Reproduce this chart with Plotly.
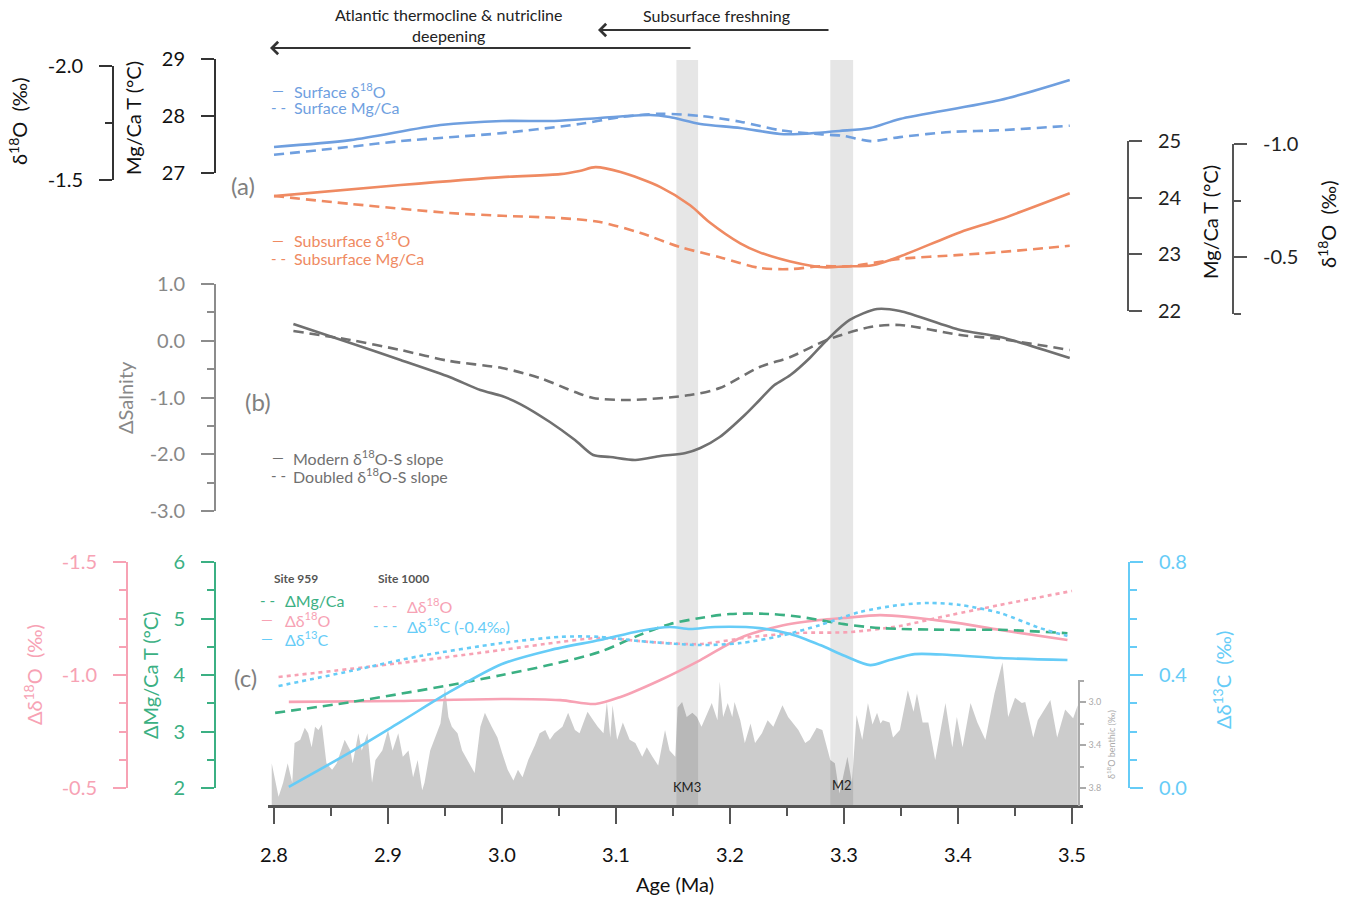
import plotly.graph_objects as go

W, H = 1354, 901
FONT = "Lato, 'Open Sans', sans-serif"

# ---------------- data ----------------
# (a) surface
surf_d18o_age = [2.800, 2.867, 2.946, 3.000, 3.046, 3.086, 3.130, 3.147, 3.174, 3.209, 3.244, 3.261, 3.296, 3.323, 3.349, 3.437, 3.498]
surf_d18o = [-1.645, -1.675, -1.741, -1.759, -1.759, -1.772, -1.785, -1.776, -1.746, -1.728, -1.702, -1.702, -1.715, -1.728, -1.768, -1.851, -1.939]
surf_mg_age = [2.800, 2.867, 2.911, 3.000, 3.068, 3.104, 3.139, 3.174, 3.209, 3.244, 3.279, 3.300, 3.323, 3.349, 3.393, 3.437, 3.498]
surf_mg = [27.32, 27.46, 27.56, 27.70, 27.86, 27.98, 28.04, 28.00, 27.90, 27.75, 27.68, 27.65, 27.56, 27.63, 27.72, 27.75, 27.83]
# (a) subsurface
sub_d18o_age = [2.800, 2.911, 3.000, 3.051, 3.068, 3.082, 3.104, 3.139, 3.165, 3.182, 3.209, 3.226, 3.253, 3.282, 3.301, 3.325, 3.349, 3.402, 3.437, 3.498]
sub_d18o = [-0.770, -0.819, -0.854, -0.867, -0.881, -0.898, -0.876, -0.810, -0.730, -0.655, -0.562, -0.522, -0.482, -0.456, -0.460, -0.465, -0.504, -0.611, -0.668, -0.783]
sub_mg_age = [2.800, 2.867, 2.954, 3.000, 3.051, 3.086, 3.121, 3.156, 3.191, 3.226, 3.253, 3.279, 3.305, 3.349, 3.402, 3.437, 3.498]
sub_mg = [24.03, 23.89, 23.73, 23.68, 23.64, 23.57, 23.38, 23.13, 22.95, 22.76, 22.74, 22.79, 22.79, 22.92, 22.99, 23.04, 23.15]
# (b) salinity
sal_mod_age = [2.817, 2.867, 2.911, 2.954, 2.981, 3.000, 3.016, 3.042, 3.064, 3.080, 3.095, 3.117, 3.139, 3.161, 3.174, 3.191, 3.213, 3.226, 3.239, 3.253, 3.270, 3.285, 3.305, 3.329, 3.349, 3.402, 3.437, 3.498]
sal_mod = [0.295, -0.040, -0.339, -0.639, -0.868, -0.974, -1.115, -1.432, -1.749, -2.013, -2.048, -2.101, -2.031, -1.978, -1.890, -1.696, -1.308, -1.044, -0.780, -0.604, -0.304, 0.013, 0.366, 0.559, 0.524, 0.189, 0.066, -0.304]
sal_dbl_age = [2.817, 2.867, 2.911, 2.954, 3.000, 3.033, 3.064, 3.080, 3.112, 3.165, 3.191, 3.226, 3.253, 3.285, 3.323, 3.349, 3.402, 3.437, 3.498]
sal_dbl = [0.172, 0.013, -0.163, -0.357, -0.480, -0.656, -0.903, -1.009, -1.044, -0.956, -0.833, -0.463, -0.286, 0.013, 0.242, 0.278, 0.101, 0.031, -0.163]
# (c) site 959
s959_d18o_age = [2.813, 2.911, 3.000, 3.051, 3.082, 3.104, 3.139, 3.174, 3.209, 3.244, 3.279, 3.300, 3.332, 3.393, 3.437, 3.496]
s959_d18o = [-0.881, -0.885, -0.894, -0.889, -0.872, -0.903, -0.978, -1.066, -1.164, -1.217, -1.243, -1.252, -1.265, -1.235, -1.199, -1.155]
s959_mg_age = [2.801, 2.867, 2.954, 3.000, 3.042, 3.086, 3.121, 3.147, 3.174, 3.200, 3.235, 3.261, 3.300, 3.332, 3.393, 3.437, 3.496]
s959_mg = [3.33, 3.52, 3.82, 4.00, 4.18, 4.41, 4.71, 4.90, 5.01, 5.08, 5.08, 5.03, 4.90, 4.83, 4.80, 4.80, 4.74]
s959_d13c_age = [2.813, 2.867, 2.911, 2.954, 3.000, 3.042, 3.086, 3.121, 3.147, 3.165, 3.187, 3.226, 3.253, 3.279, 3.301, 3.323, 3.340, 3.362, 3.393, 3.437, 3.496]
s959_d13c = [0.004, 0.127, 0.234, 0.340, 0.439, 0.488, 0.524, 0.556, 0.570, 0.563, 0.570, 0.566, 0.545, 0.506, 0.467, 0.435, 0.453, 0.474, 0.471, 0.460, 0.453]
# (c) site 1000
s1000_d18o_age = [2.804, 2.911, 3.000, 3.051, 3.086, 3.130, 3.174, 3.218, 3.261, 3.305, 3.349, 3.393, 3.437, 3.500]
s1000_d18o = [-0.991, -1.053, -1.111, -1.146, -1.164, -1.146, -1.137, -1.168, -1.186, -1.190, -1.217, -1.265, -1.310, -1.372]
s1000_d13c_age = [2.804, 2.867, 2.928, 3.000, 3.051, 3.086, 3.121, 3.174, 3.209, 3.244, 3.279, 3.314, 3.349, 3.375, 3.402, 3.437, 3.472, 3.496]
s1000_d13c = [0.361, 0.414, 0.467, 0.513, 0.535, 0.535, 0.520, 0.506, 0.513, 0.538, 0.577, 0.623, 0.648, 0.655, 0.648, 0.619, 0.566, 0.538]
# benthic d18O
benthic_age = [2.798, 2.804, 2.808, 2.812, 2.816, 2.818, 2.823, 2.827, 2.830, 2.833,
               2.836, 2.839, 2.842, 2.846, 2.851, 2.855, 2.862, 2.867, 2.869, 2.874,
               2.877, 2.880, 2.882, 2.886, 2.889, 2.895, 2.900, 2.904, 2.909, 2.913,
               2.918, 2.922, 2.926, 2.930, 2.932, 2.937, 2.941, 2.946, 2.950, 2.953,
               2.956, 2.961, 2.965, 2.970, 2.976, 2.981, 2.985, 2.991, 2.996, 3.000,
               3.005, 3.010, 3.014, 3.018, 3.023, 3.029, 3.033, 3.038, 3.042, 3.046,
               3.053, 3.058, 3.064, 3.068, 3.075, 3.080, 3.084, 3.089, 3.092, 3.095,
               3.097, 3.101, 3.106, 3.112, 3.117, 3.123, 3.127, 3.132, 3.137, 3.143,
               3.147, 3.152, 3.154, 3.158, 3.162, 3.167, 3.171, 3.175, 3.180, 3.184,
               3.189, 3.191, 3.194, 3.198, 3.202, 3.204, 3.209, 3.213, 3.218, 3.222,
               3.228, 3.233, 3.238, 3.246, 3.251, 3.260, 3.266, 3.270, 3.276, 3.281,
               3.288, 3.292, 3.296, 3.303, 3.307, 3.311, 3.316, 3.321, 3.325, 3.329,
               3.332, 3.334, 3.340, 3.343, 3.349, 3.356, 3.361, 3.364, 3.369, 3.374,
               3.380, 3.389, 3.395, 3.399, 3.404, 3.411, 3.417, 3.424, 3.432, 3.439,
               3.444, 3.450, 3.456, 3.459, 3.466, 3.470, 3.481, 3.487, 3.494, 3.501,
               3.505]
benthic_d18o = [3.57, 3.88, 3.75, 3.57, 3.75, 3.38, 3.35, 3.24, 3.29, 3.42,
                3.23, 3.26, 3.21, 3.57, 3.63, 3.57, 3.35, 3.45, 3.57, 3.29,
                3.45, 3.35, 3.29, 3.75, 3.54, 3.45, 3.26, 3.45, 3.29, 3.51,
                3.45, 3.70, 3.54, 3.82, 3.75, 3.45, 3.33, 3.20, 2.86, 3.14,
                3.23, 3.29, 3.45, 3.54, 3.66, 3.23, 3.10, 3.23, 3.33, 3.47,
                3.63, 3.73, 3.63, 3.70, 3.54, 3.40, 3.29, 3.26, 3.35, 3.29,
                3.23, 3.10, 3.26, 3.29, 3.09, 3.17, 3.23, 3.29, 3.00, 3.33,
                3.03, 3.35, 3.19, 3.35, 3.38, 3.51, 3.42, 3.51, 3.59, 3.26,
                3.45, 3.51, 3.05, 3.00, 3.14, 3.10, 3.14, 3.23, 3.10, 3.01,
                3.17, 2.81, 3.14, 3.01, 3.14, 3.00, 3.17, 3.38, 3.20, 3.38,
                3.29, 3.17, 3.23, 3.03, 3.14, 3.26, 3.38, 3.35, 3.24, 3.26,
                3.54, 3.57, 3.85, 3.51, 3.75, 3.12, 3.35, 3.01, 3.21, 3.10,
                3.20, 3.17, 3.19, 3.33, 3.26, 2.89, 3.09, 2.92, 3.19, 3.19,
                3.54, 3.01, 3.42, 3.14, 3.42, 3.01, 3.19, 3.35, 2.92, 2.63,
                3.14, 2.96, 3.01, 3.00, 3.33, 3.17, 2.98, 3.33, 3.07, 3.15,
                3.03]
benthic_floor = 3.967
# glacial events (Ma)
events = ["KM3", "M2"]
event_start = [3.153, 3.288]
event_end = [3.172, 3.308]
# tick labels
x_ticks = [2.8, 2.9, 3.0, 3.1, 3.2, 3.3, 3.4, 3.5]
x_ticktext = ["2.8", "2.9", "3.0", "3.1", "3.2", "3.3", "3.4", "3.5"]
surf_d18o_ticks, surf_d18o_text = [-2.0, -1.5], ["-2.0", "-1.5"]
surf_mg_ticks, surf_mg_text = [27, 28, 29], ["27", "28", "29"]
sub_mg_ticks, sub_mg_text = [22, 23, 24, 25], ["22", "23", "24", "25"]
sub_d18o_ticks, sub_d18o_text = [-1.0, -0.5], ["-1.0", "-0.5"]
sal_ticks, sal_text = [1, 0, -1, -2, -3], ["1.0", "0.0", "-1.0", "-2.0", "-3.0"]
dd18o_ticks, dd18o_text = [-1.5, -1.0, -0.5], ["-1.5", "-1.0", "-0.5"]
dmg_ticks, dmg_text = [2, 3, 4, 5, 6], ["2", "3", "4", "5", "6"]
dd13c_ticks, dd13c_text = [0.0, 0.4, 0.8], ["0.0", "0.4", "0.8"]
benth_ticks, benth_text = [3.0, 3.4, 3.8], ["3.0", "3.4", "3.8"]

# ---------------- colours ----------------
BLUE = "#6f9fdf"
ORANGE = "#ef8a62"
GREY = "#707070"
PINK = "#f7a2b4"
GREEN = "#3bb083"
CYAN = "#66ccf7"


def px(x):
    return x / W


def py(y):
    return 1 - y / H


fig = go.Figure()


def line(x, y, ax, color, dash="solid", width=2.6, spline=True):
    fig.add_trace(go.Scatter(
        x=x, y=y, yaxis=ax, mode="lines", showlegend=False, hoverinfo="skip",
        line=dict(color=color, width=width, dash=dash,
                  shape="spline" if spline else "linear", smoothing=0.8)))


DASH = "10px,6px"
DOT = "4px,4px"

# benthic fill on the first subplot so it is drawn below every line
fig.add_trace(go.Scatter(x=[benthic_age[0], benthic_age[-1]], y=[benthic_floor, benthic_floor],
                         yaxis="y", mode="lines", line=dict(width=0), showlegend=False, hoverinfo="skip"))
fig.add_trace(go.Scatter(x=benthic_age, y=benthic_d18o, yaxis="y", mode="lines", fill="tonexty",
                         fillcolor="rgba(0,0,0,0.20)", line=dict(width=0), showlegend=False, hoverinfo="skip"))
fig.add_trace(go.Scatter(x=[None], y=[None], yaxis="y2", showlegend=False))

line(surf_d18o_age, surf_d18o, "y3", BLUE)
line(surf_mg_age, surf_mg, "y4", BLUE, DASH)
line(sub_mg_age, sub_mg, "y5", ORANGE, DASH)
line(sub_d18o_age, sub_d18o, "y6", ORANGE)
line(sal_mod_age, sal_mod, "y7", GREY)
line(sal_dbl_age, sal_dbl, "y7", GREY, DASH)
line(s1000_d18o_age, s1000_d18o, "y8", PINK, DOT)
line(s959_d18o_age, s959_d18o, "y8", PINK)
line(s959_mg_age, s959_mg, "y9", GREEN, DASH)
line(s1000_d13c_age, s1000_d13c, "y10", CYAN, DOT)
line(s959_d13c_age, s959_d13c, "y10", CYAN)


def yax(y_top, y_bot, rng, xpos, side, color, labcolor, tv, tt, minor, tick0,
        size=20, ticklen=13, mlen=7, standoff=12, lw=2):
    return dict(domain=[py(y_bot), py(y_top)], range=rng, anchor="free", position=px(xpos), side=side,
                showgrid=False, zeroline=False, showline=True, linecolor=color, linewidth=lw,
                ticks="outside", ticklen=ticklen, tickwidth=lw, tickcolor=color,
                tickmode="array", tickvals=tv, ticktext=tt, automargin=False,
                tickfont=dict(family=FONT, size=size, color=labcolor),
                ticklabelstandoff=standoff, fixedrange=True,
                minor=dict(ticks="outside", ticklen=mlen, tickwidth=lw, tickcolor=color,
                           dtick=minor, tick0=tick0, showgrid=False))


layout_axes = dict(
    yaxis=dict(domain=[py(806), py(640)], range=[benthic_floor, 2.423], anchor="free", position=px(1079),
               visible=False, showgrid=False, zeroline=False, fixedrange=True, automargin=False),
    yaxis2=yax(680, 806, [benthic_floor, 2.795], 1079, "right", "#aaa", "#aaa", benth_ticks, benth_text, 0.2, 2.8,
               size=9, ticklen=6, mlen=4, standoff=1, lw=1.5),
    yaxis3=yax(66, 180, [-1.5, -2.0], 113, "left", "#333", "#111", surf_d18o_ticks, surf_d18o_text, 0.25, -2.0),
    yaxis4=yax(59, 173, [27, 29], 215, "left", "#333", "#111", surf_mg_ticks, surf_mg_text, 1, 27),
    yaxis5=yax(141, 311, [22, 25], 1128, "right", "#555", "#222", sub_mg_ticks, sub_mg_text, 1, 22),
    yaxis6=yax(144, 314, [-0.25, -1.0], 1233, "right", "#555", "#222", sub_d18o_ticks, sub_d18o_text, 0.25, -1.0),
    yaxis7=yax(284, 511, [-3, 1], 215, "left", "#8c8c8c", "#888", sal_ticks, sal_text, 0.5, -3),
    yaxis8=yax(562, 788, [-0.5, -1.5], 127, "left", PINK, PINK, dd18o_ticks, dd18o_text, 0.125, -1.5),
    yaxis9=yax(562, 788, [2, 6], 215, "left", GREEN, GREEN, dmg_ticks, dmg_text, 0.5, 2),
    yaxis10=yax(562, 788, [0, 0.8], 1129, "right", CYAN, CYAN, dd13c_ticks, dd13c_text, 0.1, 0),
)

fig.update_layout(
    template="none",
    width=W, height=H, autosize=False, margin=dict(l=0, r=0, t=0, b=0, pad=0, autoexpand=False),
    paper_bgcolor="white", plot_bgcolor="rgba(0,0,0,0)", showlegend=False,
    font=dict(family=FONT),
    xaxis=dict(domain=[px(268.3), px(1083.4)], range=[2.795, 3.51], anchor="free", position=py(806),
               showgrid=False, zeroline=False, showline=True, linecolor="#555", linewidth=2.5,
               ticks="outside", ticklen=16, tickwidth=2, tickcolor="#555", automargin=False,
               tickmode="array", tickvals=x_ticks, ticktext=x_ticktext,
               tickfont=dict(family=FONT, size=20, color="#111"), ticklabelstandoff=14,
               fixedrange=True,
               minor=dict(ticks="outside", ticklen=8, tickwidth=2, tickcolor="#555", dtick=0.05, tick0=2.8)),
    **layout_axes,
)

# event bars
for s, e in zip(event_start, event_end):
    fig.add_shape(type="rect", xref="x", yref="paper", x0=s, x1=e, y0=py(806), y1=py(60),
                  fillcolor="#e6e6e6", line=dict(width=0), layer="below")

anns = []


def ann(text, x, y, size=16, color="#222", xanchor="center", angle=0, yanchor="middle"):
    anns.append(dict(text=text, x=px(x), y=py(y), xref="paper", yref="paper", showarrow=False,
                     xanchor=xanchor, yanchor=yanchor, textangle=angle,
                     font=dict(family=FONT, size=size, color=color)))


# event labels
for name, s, e, yy in zip(events, event_start, event_end, [797, 795]):
    anns.append(dict(text=name, x=(s + e) / 2, y=py(yy), xref="x", yref="paper", showarrow=False,
                     font=dict(family=FONT, size=13, color="#222")))

# axis titles
ann("δ<sup>18</sup>O  (‰)", 18, 122, 20, "#111", angle=-90)
ann("Mg/Ca T (°C)", 133, 118, 20, "#111", angle=-90)
ann("Mg/Ca T (°C)", 1210, 222, 20, "#111", angle=-90)
ann("δ<sup>18</sup>O  (‰)", 1327, 225, 20, "#111", angle=-90)
ann("ΔSalnity", 125, 398, 20, "#888", angle=-90)
ann("Δδ<sup>18</sup>O  (‰)", 33, 675, 20, PINK, angle=-90)
ann("ΔMg/Ca T (°C)", 150, 675, 20, GREEN, angle=-90)
ann("Δδ<sup>13</sup>C  (‰)", 1222, 680, 20, CYAN, angle=-90)
ann("δ<sup>18</sup>O benthic (‰)", 1111, 745, 9, "#aaa", angle=-90)
ann("Age (Ma)", 675, 884, 20, "#111")

# panel letters
ann("(a)", 243, 185, 24, "#808080")
ann("(b)", 258, 401, 24, "#808080")
ann("(c)", 245, 677, 24, "#808080")

SOLID_S, DASH_S, DOT_S = "—", "- -", "- - -"
# legends (a)
for txt, sample, yy, col in [("Surface δ<sup>18</sup>O", SOLID_S, 90, BLUE), ("Surface Mg/Ca", DASH_S, 107, BLUE),
                             ("Subsurface δ<sup>18</sup>O", SOLID_S, 240, ORANGE), ("Subsurface Mg/Ca", DASH_S, 258, ORANGE)]:
    ann(sample, 278, yy, 15, col)
    ann(txt, 292, yy, 16, col, xanchor="left")
# legends (b)
for txt, sample, yy in [("Modern δ<sup>18</sup>O-S slope", SOLID_S, 457), ("Doubled δ<sup>18</sup>O-S slope", DASH_S, 475)]:
    ann(sample, 278, yy, 15, GREY)
    ann(txt, 291, yy, 16, GREY, xanchor="left")
# legends (c)
ann("<b>Site 959</b>", 272, 578, 12, "#555", xanchor="left")
ann("<b>Site 1000</b>", 376, 578, 12, "#555", xanchor="left")
for txt, sample, xx, yy, col in [("ΔMg/Ca", DASH_S, 267, 600, GREEN), ("Δδ<sup>18</sup>O", SOLID_S, 267, 619, PINK),
                                 ("Δδ<sup>13</sup>C", SOLID_S, 267, 638, CYAN),
                                 ("Δδ<sup>18</sup>O", DOT_S, 385, 605, PINK),
                                 ("Δδ<sup>13</sup>C (-0.4‰)", DOT_S, 385, 625, CYAN)]:
    ann(sample, xx, yy, 15, col)
    ann(txt, xx + 16 if sample != DOT_S else xx + 20, yy, 16, col, xanchor="left")

# top arrows
ann("Atlantic thermocline & nutricline<br>deepening", 449, 25, 16, "#222")
ann("Subsurface freshning", 716, 16, 16, "#222")
anns.append(dict(text="", x=px(270), y=py(48), xref="paper", yref="paper", showarrow=True,
                 ax=422, ay=0, axref="pixel", ayref="pixel", arrowhead=4, arrowsize=1.2, arrowwidth=2,
                 arrowcolor="#333"))
anns.append(dict(text="", x=px(598), y=py(30), xref="paper", yref="paper", showarrow=True,
                 ax=232, ay=0, axref="pixel", ayref="pixel", arrowhead=4, arrowsize=1.2, arrowwidth=2,
                 arrowcolor="#333"))

fig.update_layout(annotations=anns)
fig.write_html("out.html")
